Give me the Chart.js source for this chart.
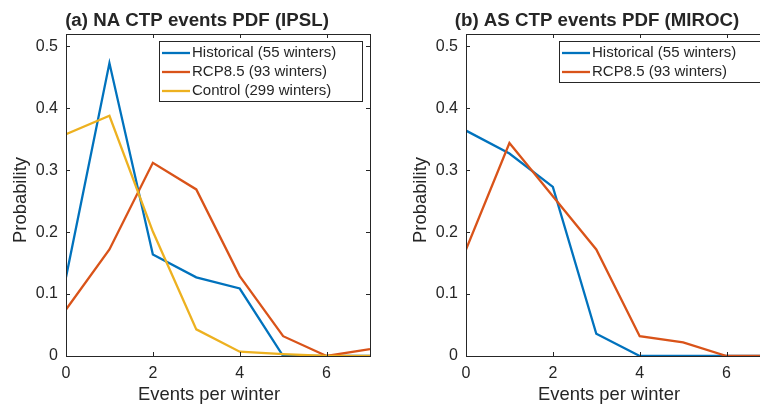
<!DOCTYPE html>
<html>
<head>
<meta charset="utf-8">
<script src="https://cdn.jsdelivr.net/npm/chart.js@4.4.1/dist/chart.umd.min.js"></script>
<style>
  html, body { margin: 0; padding: 0; background: #fff; overflow: hidden; }
  #wrap { position: relative; width: 760px; height: 408px; overflow: hidden; }
  canvas { position: absolute; top: 0; }
  #naChart { left: 0; }
  #asChart { left: 400px; }
</style>
</head>
<body>
<div id="wrap">
  <canvas id="naChart" width="380" height="408"></canvas>
  <canvas id="asChart" width="380" height="408"></canvas>
</div>
<script>
// events per winter (x) and the PDFs
const events = [0, 1, 2, 3, 4, 5, 6, 7];
const xTicks = [0, 2, 4, 6];
const yTicks = [0, 0.1, 0.2, 0.3, 0.4, 0.5];

const naHistorical = [0.127, 0.473, 0.164, 0.127, 0.109, 0, 0, 0];
const naRcp85      = [0.075, 0.172, 0.312, 0.269, 0.129, 0.032, 0, 0.011];
const naControl    = [0.358, 0.388, 0.201, 0.043, 0.007, 0.003, 0, 0];

const asHistorical = [0.364, 0.327, 0.273, 0.036, 0, 0, 0, 0];
const asRcp85      = [0.172, 0.344, 0.258, 0.172, 0.032, 0.022, 0, 0];

const seriesLabels = ['Historical (55 winters)', 'RCP8.5 (93 winters)', 'Control (299 winters)'];
const seriesColors = ['#0072BD', '#D95319', '#EDB120'];
const xLabel = 'Events per winter';
const yLabel = 'Probability';

const ink = '#262626';
const fontFamily = '"Liberation Sans", Arial, Helvetica, sans-serif';

// MATLAB-style box, inward ticks, titles and boxed legend
const matlabLook = {
  id: 'matlabLook',
  afterDatasetsDraw(chart) {
    const { ctx, chartArea: a, scales: { x, y } } = chart;
    ctx.save();
    ctx.strokeStyle = ink;
    ctx.lineWidth = 1;
    ctx.beginPath();
    xTicks.forEach(v => {
      const px = Math.round(x.getPixelForValue(v)) + 0.5;
      ctx.moveTo(px, a.bottom); ctx.lineTo(px, a.bottom - 4);
      ctx.moveTo(px, a.top); ctx.lineTo(px, a.top + 4);
    });
    yTicks.forEach(v => {
      const py = Math.round(y.getPixelForValue(v)) + 0.5;
      ctx.moveTo(a.left, py); ctx.lineTo(a.left + 4, py);
      ctx.moveTo(a.right, py); ctx.lineTo(a.right - 4, py);
    });
    ctx.stroke();
    ctx.strokeRect(Math.round(a.left) + 0.5, Math.round(a.top) + 0.5,
                   Math.round(a.width), Math.round(a.height));
    ctx.restore();
  },
  afterDraw(chart, args, opts) {
    const { ctx, chartArea: a } = chart;
    const midX = (a.left + a.right) / 2;
    ctx.save();
    ctx.fillStyle = ink;
    ctx.textAlign = 'center';
    ctx.textBaseline = 'alphabetic';

    // title
    ctx.font = 'bold 18.7px ' + fontFamily;
    ctx.fillText(opts.title, midX - 21, 26);

    // axis labels
    ctx.font = '18.4px ' + fontFamily;
    ctx.fillText(xLabel, midX - 9, 400);
    ctx.save();
    ctx.translate(26, (a.top + a.bottom) / 2 + 5);
    ctx.rotate(-Math.PI / 2);
    ctx.fillText(yLabel, 0, 0);
    ctx.restore();

    // legend
    const sets = chart.data.datasets;
    ctx.font = '15px ' + fontFamily;
    const maxW = Math.max(...sets.map(d => ctx.measureText(d.label).width));
    const w = Math.round(33 + maxW + 26);
    const h = 22 + 19 * (sets.length - 1);
    const left = Math.round(a.right - 8 - w);
    const top = Math.round(a.top + 7);
    ctx.fillStyle = '#fff';
    ctx.fillRect(left, top, w, h);
    ctx.strokeStyle = ink;
    ctx.lineWidth = 1;
    ctx.strokeRect(left + 0.5, top + 0.5, w, h);
    ctx.textAlign = 'left';
    ctx.textBaseline = 'middle';
    sets.forEach((d, i) => {
      const ry = top + 12 + 19 * i;
      ctx.strokeStyle = d.borderColor;
      ctx.lineWidth = 2.3;
      ctx.beginPath();
      ctx.moveTo(left + 3, ry);
      ctx.lineTo(left + 31, ry);
      ctx.stroke();
      ctx.fillStyle = ink;
      ctx.fillText(d.label, left + 33, ry);
    });
    ctx.restore();
  }
};

function makeDataset(values, i) {
  return {
    label: seriesLabels[i],
    data: events.map((e, k) => ({ x: e, y: values[k] })),
    borderColor: seriesColors[i],
    backgroundColor: seriesColors[i],
    borderWidth: 2.3,
    pointRadius: 0,
    tension: 0,
    fill: false,
    order: 3 - i
  };
}

function makeChart(id, title, seriesList) {
  return new Chart(document.getElementById(id), {
    type: 'line',
    data: { datasets: seriesList.map(makeDataset) },
    options: {
      responsive: false,
      animation: false,
      layout: { padding: { left: 0, right: 10, top: 34, bottom: 0 } },
      scales: {
        x: {
          type: 'linear',
          min: 0,
          max: 7,
          afterBuildTicks: s => { s.ticks = xTicks.map(v => ({ value: v })); },
          afterFit: s => { s.height = 52; },
          grid: { display: false, drawTicks: false },
          border: { display: false },
          ticks: { color: ink, font: { family: fontFamily, size: 16 }, padding: 8, maxRotation: 0, autoSkip: false }
        },
        y: {
          min: 0,
          max: 0.52,
          afterBuildTicks: s => { s.ticks = yTicks.map(v => ({ value: v })); },
          afterFit: s => { s.width = 66; },
          grid: { display: false, drawTicks: false },
          border: { display: false },
          ticks: { color: ink, font: { family: fontFamily, size: 16 }, padding: 8,
                   callback: v => String(v) }
        }
      },
      plugins: {
        legend: { display: false },
        tooltip: { enabled: false },
        matlabLook: { title: title }
      }
    },
    plugins: [matlabLook]
  });
}

makeChart('naChart', '(a) NA CTP events PDF (IPSL)', [naHistorical, naRcp85, naControl]);
makeChart('asChart', '(b) AS CTP events PDF (MIROC)', [asHistorical, asRcp85]);
</script>
</body>
</html>
